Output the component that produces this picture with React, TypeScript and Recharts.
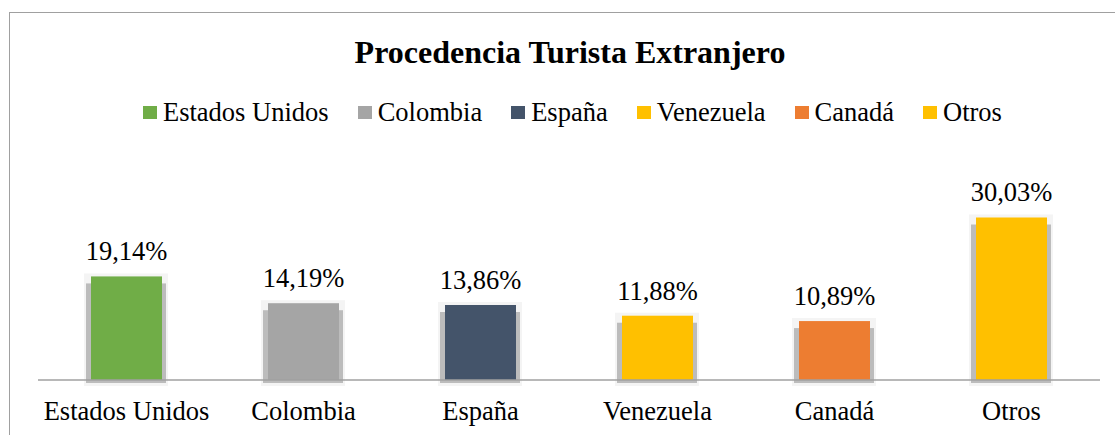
import React from "react";
import { BarChart, Bar, XAxis, YAxis, Cell, LabelList } from "recharts";

const categories = ["Estados Unidos", "Colombia", "España", "Venezuela", "Canadá", "Otros"];
const shares = [19.14, 14.19, 13.86, 11.88, 10.89, 30.03];
const colors = ["#70ad47", "#a5a5a5", "#44546a", "#ffc000", "#ed7d31", "#ffc000"];
const title = "Procedencia Turista Extranjero";

const data = categories.map((name, i) => ({ name, value: shares[i] }));

const FONT = "'Liberation Serif', 'Times New Roman', serif";

const ShadowBar = (props: any) => {
  const { x, y, width, height, fill } = props;
  if (height == null || height <= 0) return null;
  return (
    <g>
      <rect x={x - 7} y={y - 3} width={width + 13} height={height + 9} fill="#f4f4f4" />
      <rect x={x - 5} y={y + 7} width={width + 9} height={height - 4} fill="#bcbcbc" />
      <rect x={x} y={y} width={width} height={height} fill={fill} />
    </g>
  );
};

const ValueLabel = (props: any) => {
  const { x, y, width, value } = props;
  return (
    <text
      x={x + width / 2}
      y={y - 16}
      textAnchor="middle"
      fill="#000"
      fontSize={26.5}
      fontFamily={FONT}
    >
      {Number(value).toFixed(2).replace(".", ",") + "%"}
    </text>
  );
};

export default function App() {
  return (
    <div
      style={{
        position: "absolute",
        left: 0,
        top: 0,
        width: 1115,
        height: 435,
        overflow: "hidden",
        background: "#fff",
        fontFamily: FONT,
      }}
    >
      <div
        style={{
          position: "absolute",
          left: 9,
          top: 12,
          width: 1200,
          height: 500,
          border: "1px solid #a0a0a0",
        }}
      />
      <div
        style={{
          position: "absolute",
          left: 0,
          top: 36,
          width: 1140,
          textAlign: "center",
          fontSize: 32,
          fontWeight: "bold",
          lineHeight: "32px",
          color: "#000",
          fontFamily: FONT,
        }}
      >
        {title}
      </div>
      <div
        style={{
          position: "absolute",
          left: 143,
          top: 99,
          display: "flex",
          alignItems: "center",
          fontSize: 26.5,
          lineHeight: "26.5px",
          color: "#000",
          whiteSpace: "nowrap",
          fontFamily: FONT,
        }}
      >
        {categories.map((c, i) => (
          <div key={c} style={{ display: "flex", alignItems: "center", marginRight: 29 }}>
            <span style={{ width: 14, height: 13, background: colors[i], display: "inline-block", marginRight: 6 }} />
            <span style={{ fontFamily: FONT }}>{c}</span>
          </div>
        ))}
      </div>
      <div style={{ position: "absolute", left: 0, top: 0 }}>
        <BarChart
          width={1115}
          height={435}
          data={data}
          margin={{ top: 190.6, right: 15, left: 38, bottom: 0 }}
        >
          <YAxis hide domain={[0, 35]} />
          <XAxis
            dataKey="name"
            height={55}
            tickLine={false}
            tickSize={0}
            tickMargin={21}
            axisLine={{ stroke: "#a0a0a0", strokeWidth: 1.5 }}
            tick={{ fill: "#000", fontSize: 26.5, fontFamily: FONT }}
            interval={0}
          />
          <Bar dataKey="value" barSize={71} isAnimationActive={false} shape={ShadowBar}>
            {data.map((d, i) => (
              <Cell key={d.name} fill={colors[i]} />
            ))}
            <LabelList dataKey="value" content={ValueLabel} />
          </Bar>
        </BarChart>
      </div>
    </div>
  );
}
